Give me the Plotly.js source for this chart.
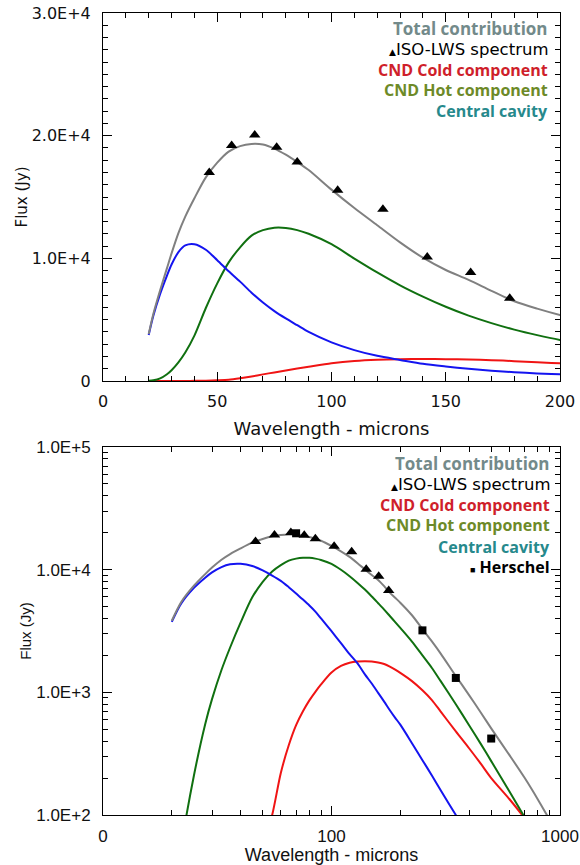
<!DOCTYPE html>
<html>
<head>
<meta charset="utf-8">
<script src="https://cdn.plot.ly/plotly-3.0.1.min.js"></script>
<style>html,body{margin:0;padding:0;background:#fff;}</style>
</head>
<body>
<div id="chart" style="width:580px;height:865px;"></div>
<script>
// Wavelength grid (microns) for model curves
const wavelength = [20,22,25,28,30,33,36,40,45,50,55,60,65,70,75,80,85,90,100,110,120,130,140,150,160,170,180,190,200,225,250,275,300,350,400,450,500,600,700,800,900,1000];
// Model components (Jy)
const totalContribution = [3830,5450,7400,9200,10400,12050,13400,14900,16600,17800,18700,19150,19330,19280,18950,18450,17850,17200,15600,14100,12700,11300,10050,9050,8250,7350,6500,5900,5380,4250,3280,2600,2080,1360,950,685,508,309,201,134,92,68];
const cndCold = [0.1,0.2,0.5,1,2,4,6,12,28,55,100,220,370,540,700,860,1010,1160,1450,1640,1740,1780,1790,1780,1750,1700,1620,1530,1440,1235,1040,865,700,480,350,262,200,135,94,65,47,35];
const cndHot = [17,56,210,550,880,1520,2320,3700,5950,7960,9670,10900,11850,12300,12500,12480,12300,12000,11150,9980,8850,7800,6880,6050,5330,4720,4190,3740,3350,2590,2000,1580,1240,800,540,380,275,156,96,62,43,30];
const centralCavity = [3750,5300,7100,8600,9500,10500,11050,11150,10700,9850,8950,8100,7200,6400,5700,5100,4550,4000,3150,2520,2050,1720,1400,1180,990,840,715,620,545,385,280,210,160,100,67,46,33,18,11,7,5,3.5];
// Observations
const isoWavelength = [46.5,56.3,66.4,76.0,85.0,102.7,122.5,141.9,160.9,178.0];
const isoFlux = [17000,19200,20050,19050,17850,15550,14000,10100,8850,6750];
const herschelWavelength = [70,250,350,500];
const herschelFlux = [19800,3200,1310,420];
// Tick labels
const topYTickVals = [0,10000,20000,30000];
const topYTickText = ['0','1.0E+4','2.0E+4','3.0E+4'];
const topXTickVals = [0,50,100,150,200];
const botYTickVals = [100,1000,10000,100000];
const botYTickText = ['1.0E+2','1.0E+3','1.0E+4','1.0E+5'];
const botXTickVals = [10,100,1000];
const botXTickText = ['0','100','1000'];

function logMinor(fromExp, toExp){
  const v=[];
  for(let e=fromExp;e<toExp;e++){for(let d=2;d<=9;d++){v.push(d*Math.pow(10,e));}}
  return v;
}
function linMinor(a,b,step){const v=[];for(let t=a;t<=b;t+=step)v.push(t);return v;}

const C = {total:'#808080', cold:'#f01414', hot:'#107010', cav:'#1414f0'};
const traces = [];
function addSet(xa, ya, withHerschel){
  const ln = (c) => ({color:c, width:2, shape:'spline', smoothing:0.8});
  traces.push({x:wavelength, y:cndCold, mode:'lines', line:ln(C.cold), xaxis:xa, yaxis:ya, name:'CND Cold component'});
  traces.push({x:wavelength, y:cndHot, mode:'lines', line:ln(C.hot), xaxis:xa, yaxis:ya, name:'CND Hot component'});
  traces.push({x:wavelength, y:centralCavity, mode:'lines', line:ln(C.cav), xaxis:xa, yaxis:ya, name:'Central cavity'});
  traces.push({x:wavelength, y:totalContribution, mode:'lines', line:ln(C.total), xaxis:xa, yaxis:ya, name:'Total contribution'});
  traces.push({x:isoWavelength, y:isoFlux, mode:'markers', marker:{symbol:'triangle-up', size:10, color:'#000'}, xaxis:xa, yaxis:ya, name:'ISO-LWS spectrum'});
  if(withHerschel){
    traces.push({x:herschelWavelength, y:herschelFlux, mode:'markers', marker:{symbol:'square', size:8, color:'#000'}, xaxis:xa, yaxis:ya, name:'Herschel'});
  }
}
addSet('x','y',false);
addSet('x2','y2',true);

const tickFontTop = {family:'DejaVu Sans, Verdana, sans-serif', size:16, color:'#111'};
const tickFontBot = {family:'Liberation Sans, Arial, sans-serif', size:17, color:'#111'};
const axisCommon = {showgrid:false, zeroline:false, showline:true, linecolor:'#000', linewidth:1, mirror:'allticks', ticks:'inside', ticklen:9, tickcolor:'#000', tickwidth:1};
const minorCommon = {ticks:'inside', ticklen:5, tickcolor:'#000', tickwidth:1, showgrid:false};

const H = 865, T = 13, B = 50, PH = H - T - B;
const py = px => (H - B - px) / PH;
const L = 103, R = 20, PW = 580 - L - R;
const pxX = px => (px - L) / PW;

const legendFontBold = (color, s) => ({family:'Open Sans, sans-serif', size:s || 16, color:color, weight:700});
const legendFontReg = {family:'DejaVu Sans, sans-serif', size:16.5, color:'#000'};
const colTotal = '#738a8a', colCold = '#cf1f2b', colHot = '#6d8a28', colCav = '#26898c';

function legendSet(xr, ys, withHerschel){
  const a = [
    {text:'<b>Total contribution</b>', font:legendFontBold(colTotal, 17), y:ys[0]},
    {text:'<span style="font-size:9px">▲</span>ISO-LWS spectrum', font:legendFontReg, y:ys[1]},
    {text:'<b>CND Cold component</b>', font:legendFontBold(colCold), y:ys[2]},
    {text:'<b>CND Hot component</b>', font:legendFontBold(colHot), y:ys[3]},
    {text:'<b>Central cavity</b>', font:legendFontBold(colCav), y:ys[4]}
  ];
  if(withHerschel) a.push({text:'<span style="font-size:9px">■</span> <b>Herschel</b>', font:{family:'Open Sans, sans-serif', size:16, color:'#000'}, y:ys[5]});
  return a.map(o => Object.assign({xref:'paper', yref:'paper', x:xr, xanchor:'right', yanchor:'middle', showarrow:false, borderpad:0}, o));
}

const annotations = [].concat(
  legendSet(pxX(549), [py(28.5),py(49.5),py(70),py(90),py(111)], false),
  legendSet(pxX(551), [py(463),py(484.5),py(504.5),py(524.5),py(546.5),py(566.5)], true)
);

const layout = {
  width:580, height:865,
  margin:{l:L, r:R, t:T, b:B, pad:0},
  paper_bgcolor:'#fff', plot_bgcolor:'#fff',
  showlegend:false,
  xaxis: Object.assign({}, axisCommon, {
    domain:[0,1], anchor:'y', range:[0,200],
    tickmode:'array', tickvals:topXTickVals, tickfont:tickFontTop, ticklabelstandoff:6,
    minor:Object.assign({}, minorCommon, {tickmode:'array', tickvals:linMinor(10,190,10)}),
    title:{text:'Wavelength - microns', font:{family:'DejaVu Sans, Verdana, sans-serif', size:18, color:'#111'}, standoff:12}
  }),
  yaxis: Object.assign({}, axisCommon, {
    domain:[py(381), 1], anchor:'x', range:[0,30000],
    tickmode:'array', tickvals:topYTickVals, ticktext:topYTickText, tickfont:tickFontTop, ticklabelstandoff:8,
    minor:Object.assign({}, minorCommon, {tickmode:'array', tickvals:linMinor(1000,29000,1000)}),
    title:{text:'Flux (Jy)', font:{family:'DejaVu Sans, Verdana, sans-serif', size:15, color:'#111'}, standoff:0}
  }),
  xaxis2: Object.assign({}, axisCommon, {
    domain:[0,1], anchor:'y2', type:'log', range:[1,3],
    tickmode:'array', tickvals:botXTickVals, ticktext:botXTickText, tickfont:tickFontBot, ticklabelstandoff:6,
    minor:Object.assign({}, minorCommon, {tickmode:'array', tickvals:logMinor(1,3)}),
    title:{text:'Wavelength - microns', font:{family:'Liberation Sans, Arial, sans-serif', size:18, color:'#111'}, standoff:5}
  }),
  yaxis2: Object.assign({}, axisCommon, {
    domain:[0, py(447)], anchor:'x2', type:'log', range:[2,5],
    tickmode:'array', tickvals:botYTickVals, ticktext:botYTickText, tickfont:tickFontBot, ticklabelstandoff:8,
    minor:Object.assign({}, minorCommon, {tickmode:'array', tickvals:logMinor(2,5)}),
    title:{text:'Flux (Jy)', font:{family:'Liberation Sans, Arial, sans-serif', size:15, color:'#111'}, standoff:0}
  }),
  annotations: annotations
};

Plotly.newPlot('chart', traces, layout, {staticPlot:true, displayModeBar:false});
</script>
</body>
</html>
